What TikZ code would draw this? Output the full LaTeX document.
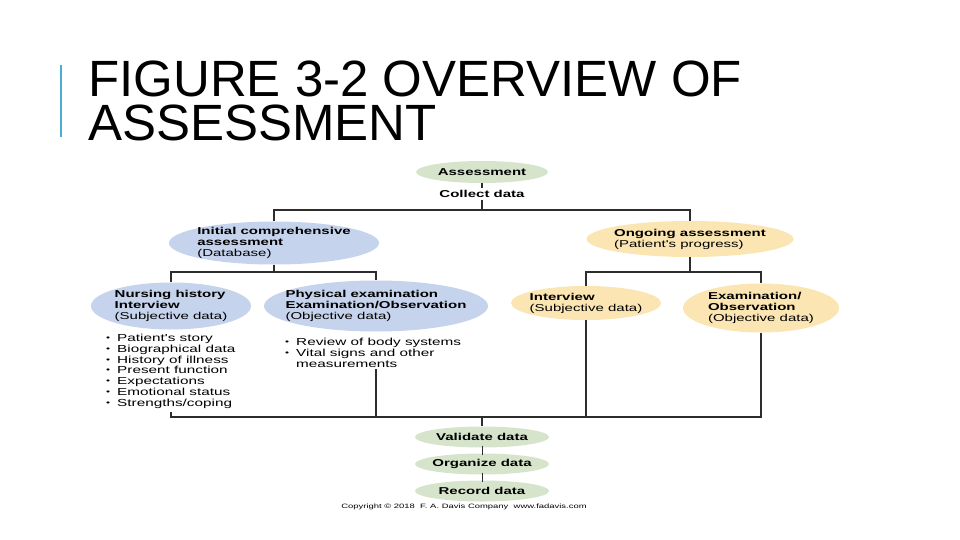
\documentclass[tikz,border=0pt]{standalone}
\usepackage{fontspec}
\setmainfont{Liberation Sans}
\newfontfamily\figfont[FakeStretch=1.5]{Liberation Sans}
\usetikzlibrary{shapes.geometric}
\definecolor{lineC}{RGB}{45,45,45}
\definecolor{blueE}{RGB}{197,211,236}
\definecolor{greenE}{RGB}{214,228,204}
\definecolor{orangeE}{RGB}{251,229,178}
\definecolor{barC}{RGB}{75,172,212}
\newcommand\mybul{\makebox[11pt][l]{\raisebox{0.2ex}{\scalebox{0.75}{•}}}}
\begin{document}
\begin{tikzpicture}[x=1pt,y=-1pt,
  ell/.style={ellipse, draw=none, inner sep=0pt},
  lbl/.style={font=\figfont\bfseries\fontsize{10}{11}\selectfont, align=left, inner sep=0pt, text=black},
  lst/.style={font=\figfont\fontsize{10.2}{10.8}\selectfont, align=left, inner sep=0pt, text=black},
  conn/.style={draw=lineC, line width=1.8pt},
  titlef/.style={font=\fontsize{51}{44}\selectfont, align=left, anchor=north west, inner sep=0pt, text=black}]
\useasboundingbox (0,0) rectangle (960,540);
% title
\draw[barC, line width=2.5pt] (61,65) -- (61,137);
\node[titlef] (title) at (88,61) {FIGURE 3-2 OVERVIEW OF\\ASSESSMENT};
% top
\node[ell, fill=greenE, minimum width=132, minimum height=22] (assess) at (482,172) {};
\node[lbl] (assessT) at (assess) {Assessment};
\node[lbl, inner sep=2pt] (collect) at (482,194) {Collect data};
\coordinate (top) at (482,210);
% level 2
\node[ell, fill=blueE, minimum width=210, minimum height=43] (init) at (274,243) {};
\node[lbl] (initT) at (init) {Initial comprehensive\\assessment\\{\mdseries (Database)}};
\node[ell, fill=orangeE, minimum width=207, minimum height=36] (ongo) at (690,239) {};
\node[lbl] (ongoT) at (ongo) {Ongoing assessment\\{\mdseries (Patient's progress)}};
\coordinate (initJ) at (274,272);
\coordinate (ongoJ) at (690,272);
% level 3
\node[ell, fill=blueE, minimum width=160, minimum height=47] (nurs) at (171,306) {};
\node[lbl] (nursT) at (nurs) {Nursing history\\Interview\\{\mdseries (Subjective data)}};
\node[ell, fill=blueE, minimum width=224, minimum height=51] (phys) at (376,306) {};
\node[lbl] (physT) at (phys) {Physical examination\\Examination/Observation\\{\mdseries (Objective data)}};
\node[ell, fill=orangeE, minimum width=150, minimum height=34] (intv) at (586,303) {};
\node[lbl] (intvT) at (intv) {Interview\\{\mdseries (Subjective data)}};
\node[ell, fill=orangeE, minimum width=156, minimum height=49] (exam) at (761,308) {};
\node[lbl] (examT) at (exam) {Examination/\\Observation\\{\mdseries (Objective data)}};
% lists
\node[lst, anchor=north west] (nursL) at (106,334) {\mybul Patient's story\\\mybul Biographical data\\\mybul History of illness\\\mybul Present function\\\mybul Expectations\\\mybul Emotional status\\\mybul Strengths/coping};
\node[lst, anchor=north west] (physL) at (285,338) {\mybul Review of body systems\\\mybul Vital signs and other\\\hphantom{\mybul}measurements};
% bottom
\coordinate (bot) at (482,417);
\node[ell, fill=greenE, minimum width=134, minimum height=21] (valid) at (482,437) {};
\node[lbl] (validT) at (valid) {Validate data};
\node[ell, fill=greenE, minimum width=134, minimum height=21] (organ) at (482,464) {};
\node[lbl] (organT) at (organ) {Organize data};
\node[ell, fill=greenE, minimum width=134, minimum height=21] (record) at (482,491) {};
\node[lbl] (recordT) at (record) {Record data};
\node[font=\figfont\fontsize{6.3}{7}\selectfont, inner sep=0pt] (copy) at (464,506.5) {Copyright © 2018 \ F. A. Davis Company \ www.fadavis.com};
% connectors
\draw[conn] (assess.south) -- (collect.north);
\draw[conn] (collect.south) -- (top);
\draw[conn] (init.north) -- (init.north |- top) -- (ongo.north |- top) -- (ongo.north);
\draw[conn] (init.south) -- (initJ);
\draw[conn] (nurs.north) |- (initJ) -| (phys.north);
\draw[conn] (ongo.south) -- (ongoJ);
\draw[conn] (intv.north) |- (ongoJ) -| (exam.north);
\draw[conn] ([yshift=-3pt]nursL.south -| nurs) -- (nurs |- bot) -- (exam |- bot) -- (exam.south);
\draw[conn] ([yshift=-2pt]physL.south -| phys) -- (phys |- bot);
\draw[conn] (intv.south) -- (intv |- bot);
\draw[conn] (bot) -- (valid.north);
\draw[conn, line width=1pt] ([yshift=2pt]valid.south) -- ([yshift=-2pt]organ.north);
\draw[conn, line width=1pt] ([yshift=2pt]organ.south) -- ([yshift=-2pt]record.north);
\end{tikzpicture}
\end{document}
